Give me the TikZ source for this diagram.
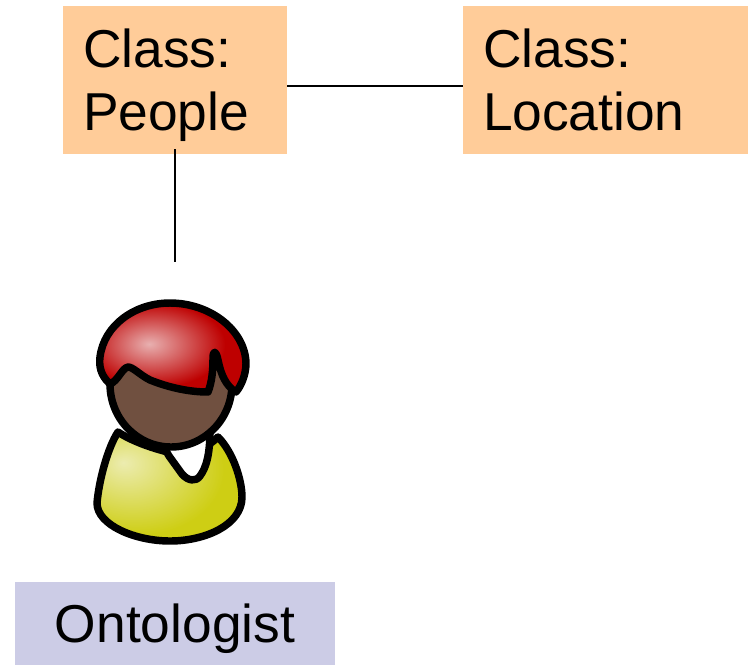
\documentclass[tikz,border=0pt]{standalone}
\usepackage{fontspec}
\setmainfont{Liberation Sans}

\definecolor{hairlight}{RGB}{232,176,176}
\definecolor{hairred}{RGB}{190,0,0}
\definecolor{bodylight}{RGB}{236,236,176}
\definecolor{bodyyellow}{RGB}{206,206,20}
\pgfdeclareradialshading{hairshade}{\pgfpoint{-8bp}{2bp}}{color(0bp)=(hairlight); color(24bp)=(hairred); color(100bp)=(hairred)}
\pgfdeclareradialshading{bodyshade}{\pgfpoint{-16bp}{11bp}}{color(0bp)=(bodylight); color(30bp)=(bodyyellow); color(100bp)=(bodyyellow)}

\tikzset{
  classbox/.style={fill={rgb, 255:red, 255; green, 204; blue, 153 },inner xsep=15pt,inner ysep=0pt,minimum height=111pt,align=left,font=\fontsize{40}{47.25}\selectfont},
  rolebox/.style={fill={rgb, 255:red, 204; green, 204; blue, 230 },inner sep=0pt,minimum width=240pt,minimum height=62.25pt,text depth=0pt,font=\fontsize{40}{48}\selectfont},
  link/.style={line width=1.2pt},
  outline/.style={draw=black,line width=5.6pt,line join=round,line cap=round}
}

\begin{document}
\begin{tikzpicture}[x=0.75pt,y=0.75pt,yscale=-1,xscale=1]
\useasboundingbox (0,0) rectangle (748,665);

%Class boxes
\node [classbox,text width=138pt] (people) at (175,80) {Class:\\\smash{People}};
\node [classbox,text width=183.75pt] (location) at (605.5,80) {Class:\\Location};
%Role box
\node [rolebox] (ontologist) at (175,623.5) {Ontologist};

%Straight Lines
\coordinate (peopleend) at (175,262);
\draw [link] ([yshift=4.5pt]people.east) -- ([yshift=4.5pt]location.west);
\draw [link] ([yshift=-3.75pt]people.south) -- (peopleend);

%Shape: Body
\path [outline,shading=bodyshade] (118,432) .. controls (108,447) and (99,480) .. (97,503) .. controls (97,525) and (135,541) .. (170,541) .. controls (205,541) and (242,525) .. (242,497) .. controls (242,480) and (233,452) .. (218,437) .. controls (210,445) and (190,458) .. (172,453) .. controls (150,448) and (130,440) .. (118,432) -- cycle;
%Shape: Collar
\draw [outline,fill=white] (160,440) -- (169,456) -- (182,474) .. controls (188,481) and (196,482) .. (200,476) .. controls (206,468) and (210,455) .. (210,430) -- cycle;
%Shape: Head
\draw [outline,fill={rgb, 255:red, 112; green, 80; blue, 64 }] (171,384) ellipse (61 and 63);
%Shape: Hair
\path [outline,shading=hairshade] (110,384) .. controls (100,375) and (99,365) .. (100,357) .. controls (104,325) and (135,303) .. (170,303) .. controls (210,303) and (245,330) .. (246,363) .. controls (246,375) and (241,386) .. (236,392) .. controls (226,386) and (221,375) .. (218,360) .. controls (216,350) and (213,350) .. (213,358) .. controls (213,370) and (212,382) .. (208,392) .. controls (190,392) and (170,388) .. (150,380) .. controls (140,375) and (133,367) .. (128,367) .. controls (122,368) and (118,381) .. (110,384) -- cycle;

\end{tikzpicture}
\end{document}
